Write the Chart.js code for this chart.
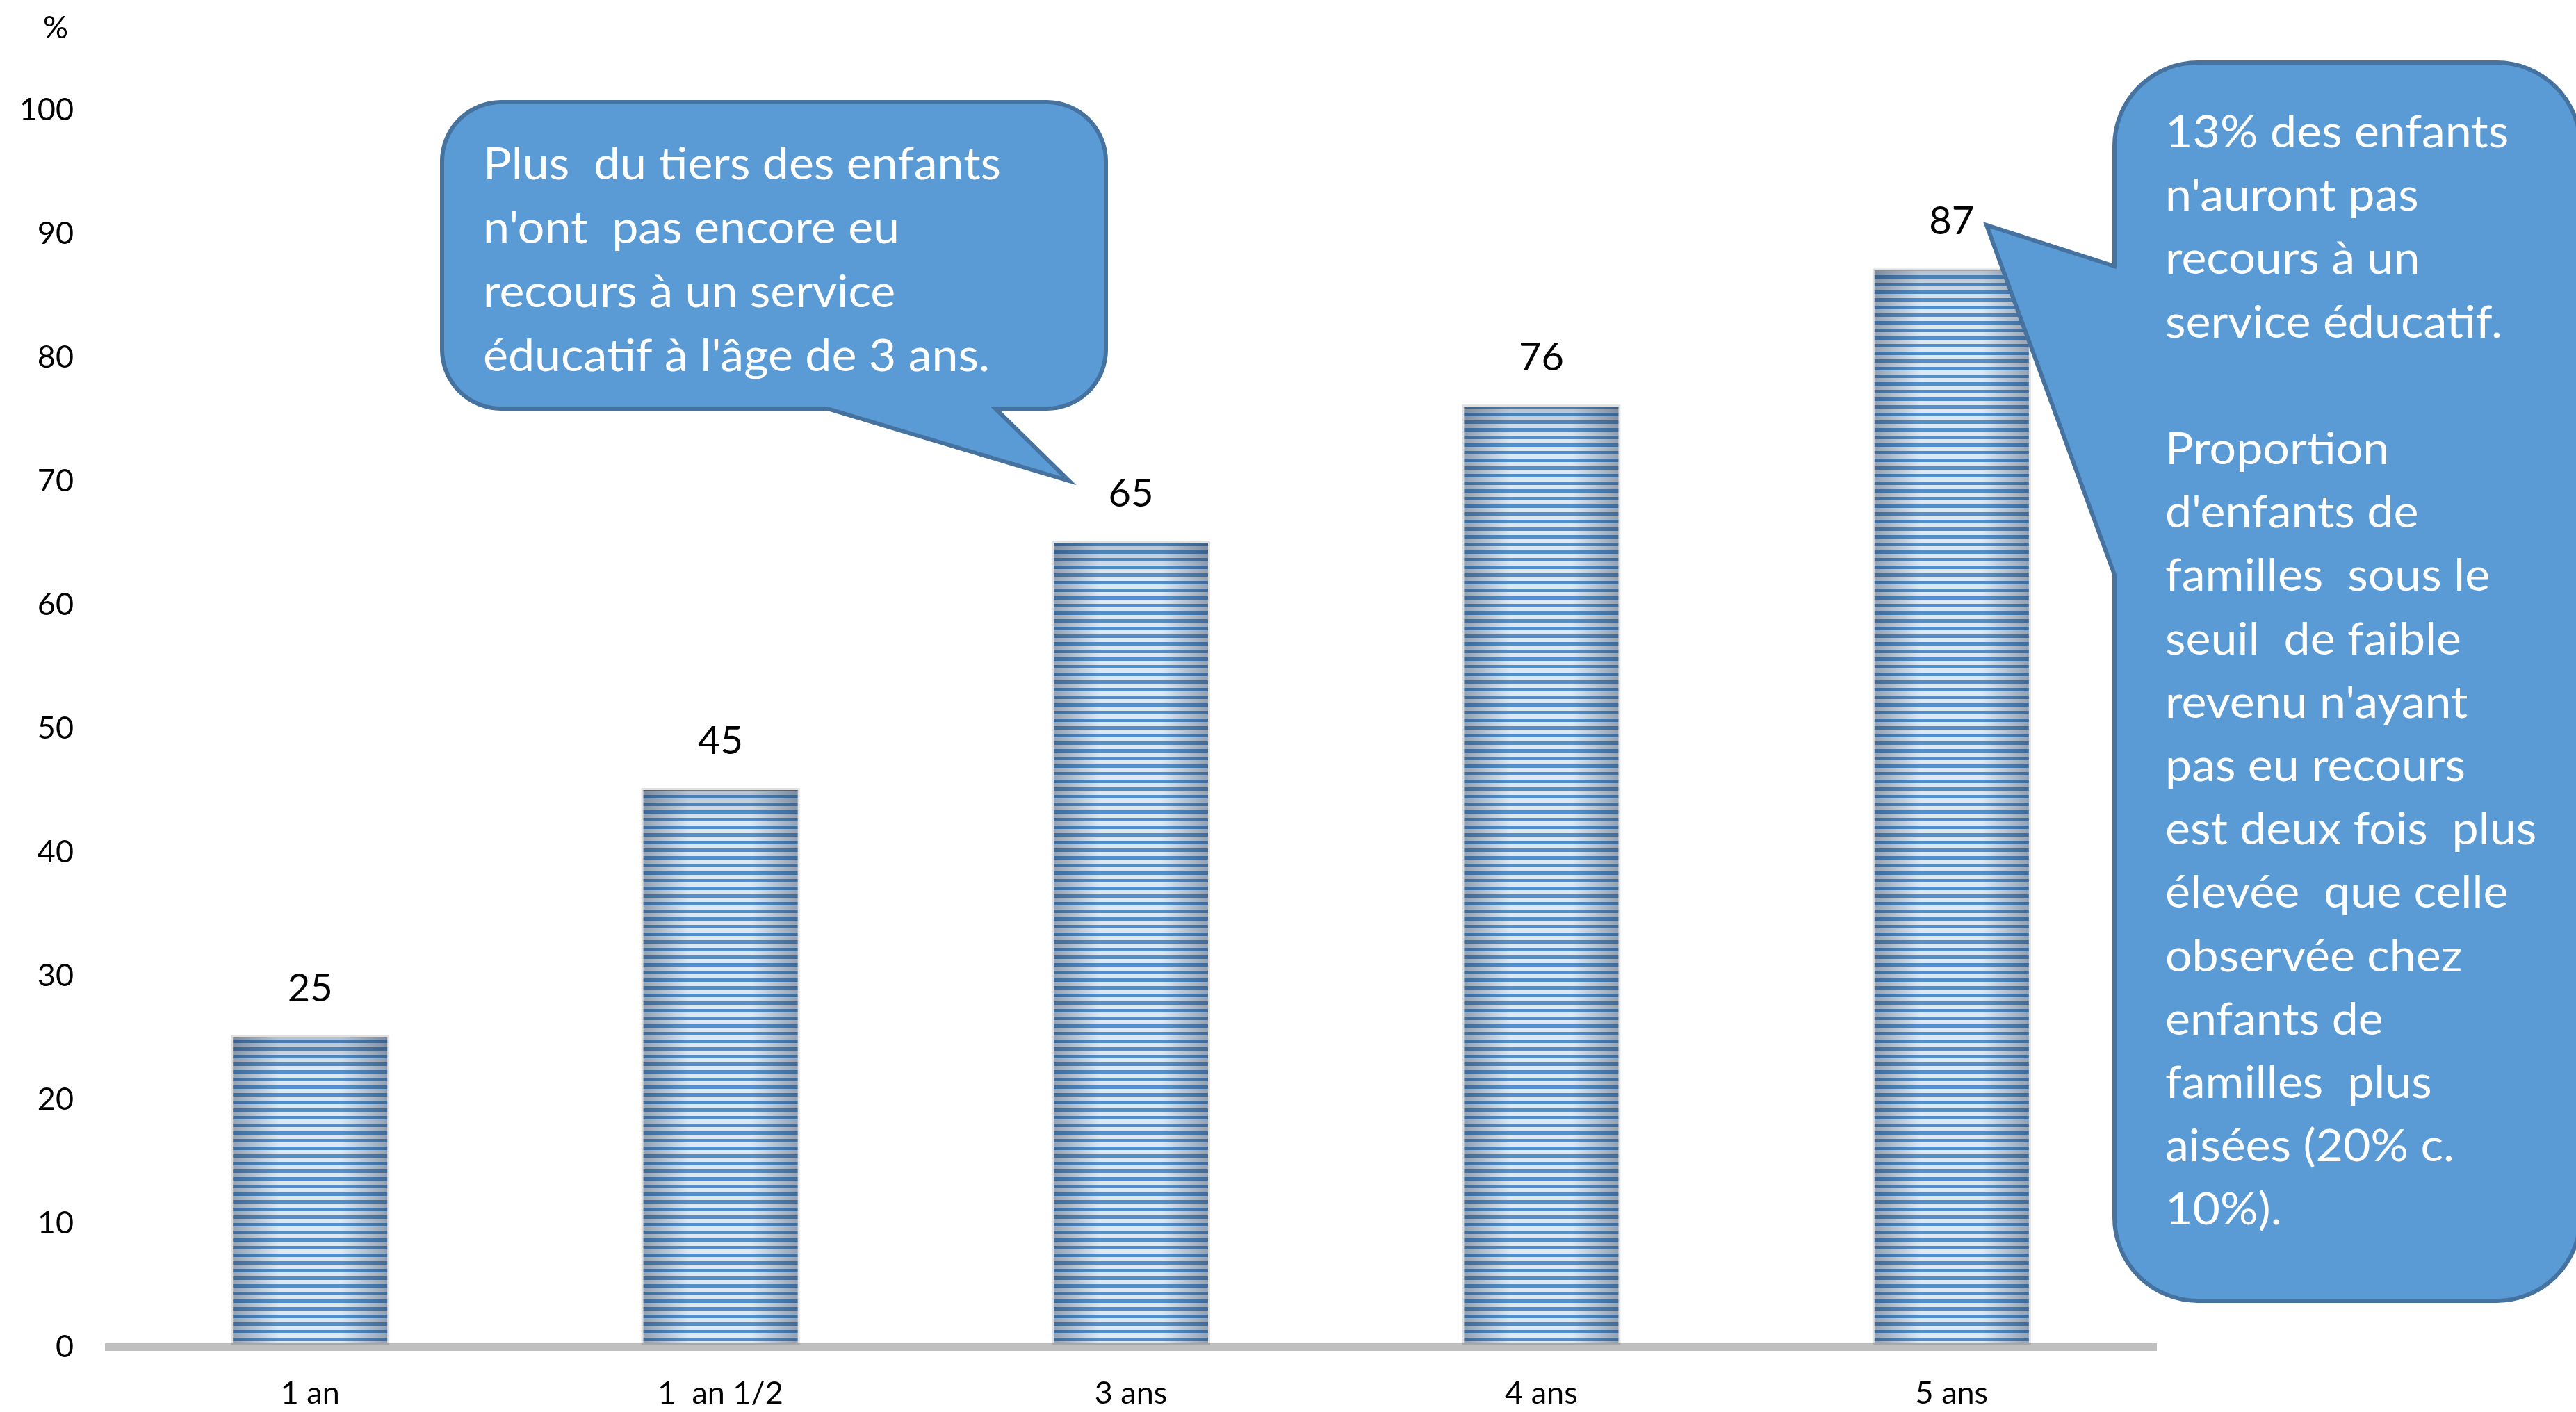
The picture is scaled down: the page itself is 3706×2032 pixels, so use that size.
<!DOCTYPE html>
<html>
<head>
<meta charset="utf-8">
<script src="https://cdn.jsdelivr.net/npm/chart.js@4"></script>
<style>
  body { margin: 0; background: #fff; }
</style>
</head>
<body>
<canvas id="chart" width="3706" height="2032"></canvas>
<script>
// donnees du graphique
const categories = ['1 an', '1  an 1/2', '3 ans', '4 ans', '5 ans'];
const values = [25, 45, 65, 76, 87];
const yMax = 100;
const yStep = 10;

// textes des bulles
const bulle1 = [
  'Plus  du tiers des enfants',
  "n'ont  pas encore eu",
  'recours à un service',
  "éducatif à l'âge de 3 ans."
];
const bulle2 = [
  '13% des enfants',
  "n'auront pas",
  'recours à un',
  'service éducatif.',
  '',
  'Proportion',
  "d'enfants de",
  'familles  sous le',
  'seuil  de faible',
  "revenu n'ayant",
  'pas eu recours',
  'est deux fois  plus',
  'élevée  que celle',
  'observée chez',
  'enfants de',
  'familles  plus',
  'aisées (20% c.',
  '10%).'
];

const FONT = 'Lato, "Open Sans", sans-serif';

// motif raye des barres
const pc = document.createElement('canvas');
pc.width = 1; pc.height = 11;
const p = pc.getContext('2d');
p.fillStyle = '#dce8f4'; p.fillRect(0, 0, 1, 11);
p.fillStyle = '#5390cb'; p.fillRect(0, 0, 1, 5);

const ctx = document.getElementById('chart').getContext('2d');
const stripes = ctx.createPattern(pc, 'repeat');

function bubblePath(c, L, T, R, B, r, tail) {
  c.beginPath();
  c.moveTo(L + r, T);
  c.lineTo(R - r, T);
  c.arcTo(R, T, R, T + r, r);
  c.lineTo(R, B - r);
  c.arcTo(R, B, R - r, B, r);
  if (tail.side === 'bottom') {
    c.lineTo(tail.b, B);
    c.lineTo(tail.tx, tail.ty);
    c.lineTo(tail.a, B);
  }
  c.lineTo(L + r, B);
  c.arcTo(L, B, L, B - r, r);
  if (tail.side === 'left') {
    c.lineTo(L, tail.b);
    c.lineTo(tail.tx, tail.ty);
    c.lineTo(L, tail.a);
  }
  c.lineTo(L, T + r);
  c.arcTo(L, T, L + r, T, r);
  c.closePath();
  c.fillStyle = '#5b9bd5';
  c.fill();
  c.lineWidth = 6;
  c.strokeStyle = '#45729f';
  c.stroke();
}

function bubbleText(c, lines, x, y0, step, sx) {
  c.save();
  c.fillStyle = '#fff';
  c.font = '64px ' + FONT;
  c.textAlign = 'left';
  c.textBaseline = 'alphabetic';
  lines.forEach((t, i) => {
    c.save();
    c.translate(x, y0 + i * step);
    c.scale(sx, 1);
    c.fillText(t, 0, 0);
    c.restore();
  });
  c.restore();
}

const decor = {
  id: 'decor',
  afterDatasetsDraw(chart) {
    const c = chart.ctx;
    const meta = chart.getDatasetMeta(0);
    meta.data.forEach((bar, i) => {
      const { x, y, base, width } = bar.getProps(['x', 'y', 'base', 'width'], true);
      const left = x - width / 2;
      // ombrage lateral
      const g = c.createLinearGradient(left, 0, left + width, 0);
      g.addColorStop(0, 'rgba(30,45,70,0.38)');
      g.addColorStop(0.3, 'rgba(30,45,70,0)');
      g.addColorStop(0.7, 'rgba(30,45,70,0)');
      g.addColorStop(1, 'rgba(30,45,70,0.38)');
      c.fillStyle = g;
      c.fillRect(left, y, width, base - y);
      // haut plus sombre
      const gv = c.createLinearGradient(0, y, 0, y + 45);
      gv.addColorStop(0, 'rgba(40,55,80,0.22)');
      gv.addColorStop(1, 'rgba(40,55,80,0)');
      c.fillStyle = gv;
      c.fillRect(left, y, width, 45);
      // contour leger
      c.strokeStyle = 'rgba(0,0,0,0.12)';
      c.lineWidth = 3;
      c.strokeRect(left - 1.5, y - 1.5, width + 3, base - y + 3);

      c.fillStyle = '#000';
      c.font = '56px ' + FONT;
      c.textAlign = 'center';
      c.textBaseline = 'middle';
      c.fillText(String(values[i]), x, y - 70);
    });
  },
  afterDraw(chart) {
    const c = chart.ctx;
    c.save();
    c.fillStyle = '#000';
    c.font = '45px ' + FONT;
    c.textAlign = 'center';
    c.textBaseline = 'middle';
    c.fillText('%', 80, 40);

    c.font = '64px ' + FONT;
    const sx = 745 / c.measureText(bulle1[0]).width;

    bubblePath(c, 636, 147, 1591, 588, 85, { side: 'bottom', a: 1190, b: 1432, tx: 1538, ty: 692 });
    bubbleText(c, bulle1, 695, 258, 92, sx);

    bubblePath(c, 3042, 90, 3712, 1872, 120, { side: 'left', a: 383, b: 827, tx: 2858, ty: 324 });
    bubbleText(c, bulle2, 3115, 212, 91.2, sx);
    c.restore();
  }
};

new Chart(ctx, {
  type: 'bar',
  data: {
    labels: categories,
    datasets: [{
      data: values,
      backgroundColor: stripes,
      borderWidth: 0,
      categoryPercentage: 1,
      barPercentage: 0.376
    }]
  },
  options: {
    responsive: false,
    devicePixelRatio: 1,
    animation: false,
    layout: { padding: { top: 158, right: 603, bottom: 0, left: 0 } },
    plugins: { legend: { display: false }, tooltip: { enabled: false } },
    scales: {
      x: {
        grid: { display: false, drawTicks: false },
        border: { display: false },
        ticks: { color: '#000', font: { size: 45, family: FONT }, padding: 40 },
        afterFit: s => { s.height = 94; }
      },
      y: {
        z: 1,
        min: 0,
        max: yMax,
        grid: {
          display: true,
          drawTicks: false,
          color: c => c.tick && c.tick.value === 0 ? '#bfbfbf' : 'rgba(0,0,0,0)',
          lineWidth: c => c.tick && c.tick.value === 0 ? 11 : 0
        },
        border: { display: false },
        ticks: { stepSize: yStep, color: '#000', font: { size: 45, family: FONT }, padding: 45 },
        afterFit: s => { s.width = 151; }
      }
    }
  },
  plugins: [decor]
});
</script>
</body>
</html>
